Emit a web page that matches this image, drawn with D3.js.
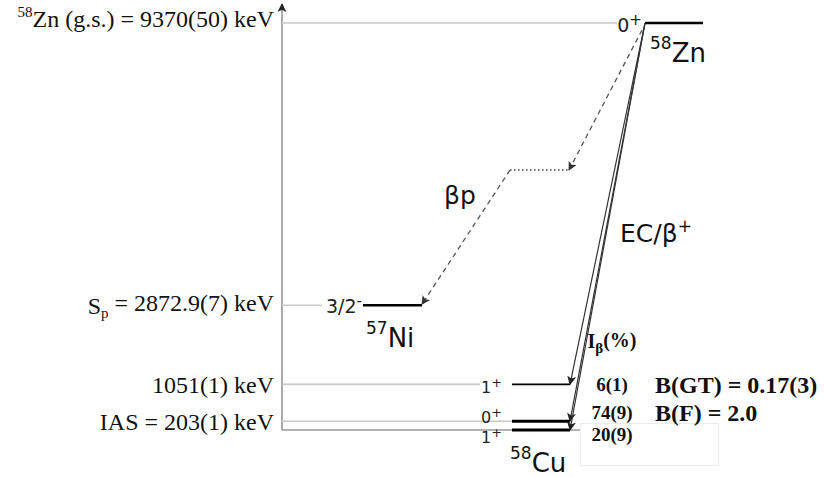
<!DOCTYPE html>
<html>
<head>
<meta charset="utf-8">
<script src="https://cdn.jsdelivr.net/npm/d3@7/dist/d3.min.js"></script>
<style>
  html, body { margin: 0; padding: 0; background: #fff; }
  svg { display: block; }
  .serif { font-family: "Liberation Serif", "Times New Roman", serif; fill: #111; }
  .sans { font-family: "DejaVu Sans", Verdana, sans-serif; fill: #111; }
</style>
</head>
<body>
<svg id="chart" width="825" height="477"></svg>
<script>
// Level energies (keV)
const znGroundEnergy = 9370;
const protonSeparation = 2872.9;
const cuLevelEnergies = [1051, 203, 0];
const intermediateEnergy = 5985;       // schematic βp feeding state

// Text
const leftLabels = [
  { pre: "58", main: "Zn (g.s.) = 9370(50) keV", energy: 9370 },
  { pre: "", main: "S", sub: "p", post: " = 2872.9(7) keV", energy: 2872.9 },
  { pre: "", main: "1051(1) keV", energy: 1051 },
  { pre: "", main: "IAS = 203(1) keV", energy: 203 }
];
const znSpin = ["0", "+"];
const niSpin = ["3/2", "-"];
const cuSpins = [["1", "+"], ["0", "+"], ["1", "+"]];
const betaIntensities = ["6(1)", "74(9)", "20(9)"];
const strengthLabels = ["B(GT) = 0.17(3)", "B(F) = 2.0"];

// Layout
const axisX = 282;
const y = d3.scaleLinear().domain([0, znGroundEnergy]).range([430, 23]);
const cols = {
  zn: { x0: 645, x1: 703, lab: 642 },
  ni: { x0: 363, x1: 422, lab: 362 },
  cu: { x0: 512, x1: 570, lab: 502 }
};
const cuWidths = [1.6, 3, 3];
const cuGrayEnds = [480, 512, 512];
const cuSpinNudge = [3, -4, 7];
const intensityNudge = [0, -9, 4];

const svg = d3.select("#chart");
const defs = svg.append("defs");
function marker(id, color) {
  defs.append("marker")
    .attr("id", id).attr("viewBox", "0 0 10 10")
    .attr("refX", 9).attr("refY", 5)
    .attr("markerWidth", 9).attr("markerHeight", 9)
    .attr("markerUnits", "userSpaceOnUse")
    .attr("orient", "auto")
    .append("path").attr("d", "M0,0 L10,5 L0,10 L2.5,5 Z").attr("fill", color);
}
marker("arrDark", "#222");
marker("arrDash", "#333");

// faint box below the intensity column
svg.append("rect")
  .attr("x", 580.5).attr("y", 423.5).attr("width", 138).attr("height", 42)
  .attr("fill", "none").attr("stroke", "#ececec").attr("stroke-width", 1);

// vertical energy axis with arrow
svg.append("line")
  .attr("x1", axisX).attr("x2", axisX).attr("y1", y(0)).attr("y2", 4)
  .attr("stroke", "#888").attr("stroke-width", 1.4)
  .attr("marker-end", "url(#arrDark)");

// gray reference lines
const grayLines = [
  { e: znGroundEnergy, x1: 617 },
  { e: protonSeparation, x1: 322 },
  { e: cuLevelEnergies[0], x1: cuGrayEnds[0] },
  { e: cuLevelEnergies[1], x1: cuGrayEnds[1] }
];
svg.selectAll("line.ref").data(grayLines).join("line")
  .attr("class", "ref")
  .attr("x1", axisX).attr("x2", d => d.x1)
  .attr("y1", d => y(d.e)).attr("y2", d => y(d.e))
  .attr("stroke", "#c8c8c8").attr("stroke-width", 1.6);
// baseline (ground state)
svg.append("line")
  .attr("x1", axisX).attr("x2", 580).attr("y1", y(0)).attr("y2", y(0))
  .attr("stroke", "#999").attr("stroke-width", 1.4);

// left energy labels
const lab = svg.selectAll("text.left").data(leftLabels).join("text")
  .attr("class", "serif left")
  .attr("x", 274).attr("y", d => y(d.energy))
  .attr("dy", "0.35em").attr("text-anchor", "end")
  .style("font-size", "24px");
lab.each(function (d) {
  const t = d3.select(this);
  if (d.pre) {
    t.append("tspan").text(d.pre).style("font-size", "15px").attr("dy", "-0.4em");
    t.append("tspan").text(d.main).attr("dy", "0.4em");
  } else {
    t.append("tspan").text(d.main);
  }
  if (d.sub) {
    t.append("tspan").text(d.sub).style("font-size", "15px").attr("dy", "0.3em");
    t.append("tspan").text(d.post).attr("dy", "-0.3em");
  }
});

// level lines
function level(x0, x1, e, w) {
  svg.append("line").attr("x1", x0).attr("x2", x1)
    .attr("y1", y(e)).attr("y2", y(e))
    .attr("stroke", "#000").attr("stroke-width", w);
}
level(cols.zn.x0, cols.zn.x1, znGroundEnergy, 2.6);
level(cols.ni.x0, cols.ni.x1, protonSeparation, 2.6);
cuLevelEnergies.forEach((e, i) => level(cols.cu.x0, cols.cu.x1, e, cuWidths[i]));

// spin labels
function spin(xEnd, yy, parts, size) {
  const t = svg.append("text").attr("class", "sans")
    .attr("x", xEnd).attr("y", yy).attr("dy", "0.35em")
    .attr("text-anchor", "end").style("font-size", size + "px").style("fill", "#222");
  t.append("tspan").text(parts[0]);
  t.append("tspan").text(parts[1]).style("font-size", (size * 0.8) + "px").attr("dy", "-0.45em");
}
spin(cols.zn.lab, y(znGroundEnergy) + 2, znSpin, 19);
spin(cols.ni.lab, y(protonSeparation) + 1, niSpin, 19);
cuSpins.forEach((s, i) => spin(cols.cu.lab, y(cuLevelEnergies[i]) + cuSpinNudge[i], s, 16));

// nucleus names
function nucleus(x, yy, mass, name) {
  const t = svg.append("text").attr("class", "sans").attr("x", x).attr("y", yy)
    .style("font-size", "26px");
  t.append("tspan").text(mass).style("font-size", "17px").attr("dy", "-0.5em");
  t.append("tspan").text(name).attr("dy", "0.5em");
}
nucleus(650, y(znGroundEnergy) + 34, "58", "Zn");
nucleus(366, y(protonSeparation) + 37, "57", "Ni");
nucleus(510, y(0) + 37, "58", "Cu");

// EC/β+ feeding arrows
const start = { x: cols.zn.x0, y: y(znGroundEnergy) };
svg.selectAll("line.ec").data(cuLevelEnergies).join("line")
  .attr("class", "ec")
  .attr("x1", start.x).attr("y1", start.y)
  .attr("x2", cols.cu.x1).attr("y2", d => y(d))
  .attr("stroke", "#333").attr("stroke-width", 1.2)
  .attr("marker-end", "url(#arrDark)");

// βp path: dashed β feeding, dotted intermediate state, dashed proton emission
const yi = y(intermediateEnergy);
svg.append("line")
  .attr("x1", 642).attr("y1", y(znGroundEnergy) + 7)
  .attr("x2", 569).attr("y2", yi)
  .attr("stroke", "#555").attr("stroke-width", 1.3).attr("stroke-dasharray", "5,4")
  .attr("marker-end", "url(#arrDash)");
svg.append("line")
  .attr("x1", 510).attr("x2", 569).attr("y1", yi).attr("y2", yi)
  .attr("stroke", "#444").attr("stroke-width", 1.4).attr("stroke-dasharray", "1.5,2.5");
svg.append("line")
  .attr("x1", 510).attr("y1", yi)
  .attr("x2", cols.ni.x1).attr("y2", y(protonSeparation) - 1)
  .attr("stroke", "#555").attr("stroke-width", 1.3).attr("stroke-dasharray", "5,4")
  .attr("marker-end", "url(#arrDash)");

// decay-mode labels
svg.append("text").attr("class", "sans").attr("x", 444).attr("y", 204)
  .style("font-size", "25px").text("βp");
const ec = svg.append("text").attr("class", "sans").attr("x", 620).attr("y", 242)
  .style("font-size", "25px");
ec.append("tspan").text("EC/β");
ec.append("tspan").text("+").style("font-size", "17px").attr("dy", "-0.6em");

// β intensity column
const ib = svg.append("text").attr("class", "serif").attr("x", 612).attr("y", y(1051) - 36)
  .attr("text-anchor", "middle").style("font-size", "20px").style("font-weight", "bold");
ib.append("tspan").text("I");
ib.append("tspan").text("β").style("font-size", "15px").attr("dy", "0.3em");
ib.append("tspan").text("(%)").attr("dy", "-0.3em");

svg.selectAll("text.ib").data(betaIntensities).join("text")
  .attr("class", "serif ib")
  .attr("x", 612).attr("y", (d, i) => y(cuLevelEnergies[i]) + intensityNudge[i])
  .attr("dy", "0.35em").attr("text-anchor", "middle")
  .style("font-size", "19px").style("font-weight", "bold")
  .text(d => d);

svg.selectAll("text.bstr").data(strengthLabels).join("text")
  .attr("class", "serif bstr")
  .attr("x", 655).attr("y", (d, i) => y(cuLevelEnergies[i]) + intensityNudge[i])
  .attr("dy", "0.35em")
  .style("font-size", "24px").style("font-weight", "bold")
  .text(d => d);
</script>
</body>
</html>
